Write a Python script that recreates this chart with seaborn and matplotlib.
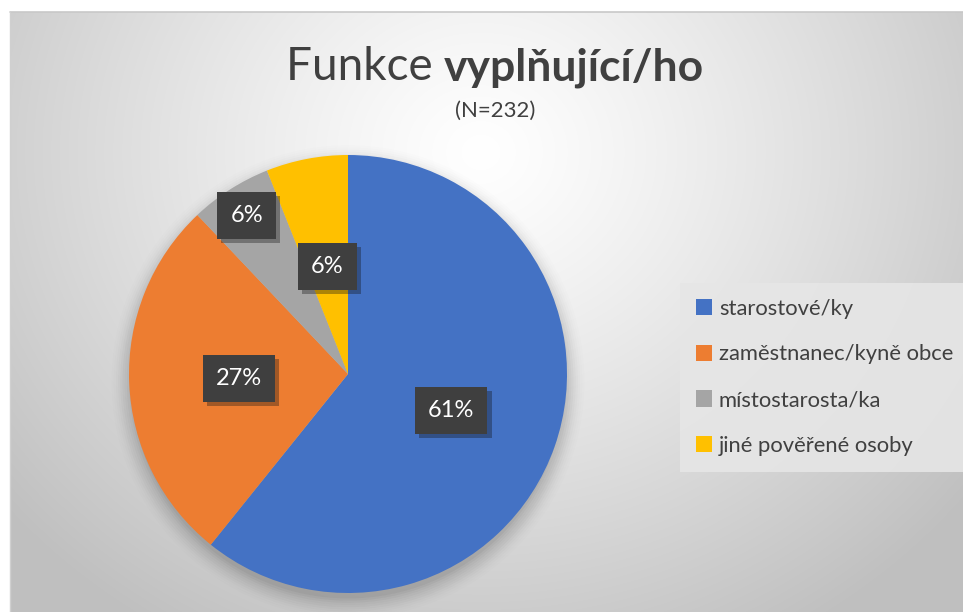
import numpy as np
import matplotlib
matplotlib.use("Agg")
import matplotlib.pyplot as plt
import matplotlib.patheffects as pe
from matplotlib.patches import Circle
import seaborn as sns

# ---- data ----
categories = ["starostové/ky", "zaměstnanec/kyně obce", "místostarosta/ka", "jiné pověřené osoby"]
counts = [141, 63, 14, 14]
pct_labels = ["61%", "27%", "6%", "6%"]
colors = ["#4472C4", "#ED7D31", "#A5A5A5", "#FFC000"]
label_dist = [0.5, 0.5, 0.86, 0.5]
title_light = "Funkce "
title_bold = "vyplňující/ho"
subtitle = "(N=232)"

sns.set_theme(style="white")
plt.rcParams["font.family"] = ["Lato", "DejaVu Sans"]

W, H = 963, 612
fig = plt.figure(figsize=(W / 100, H / 100), dpi=100)
fig.patch.set_facecolor("white")

# ---- background gradient panel ----
bx0, by0 = 10, 12
bg = fig.add_axes([bx0 / W, 0, (W - bx0) / W, (H - by0) / H])
yy, xx = np.mgrid[0:H - by0, 0:W - bx0]
cx, cy = 470, 140
r = np.sqrt(((xx - cx) / 620.0) ** 2 + ((yy - cy) / 560.0) ** 2)
val = 1.0 - 0.25 * np.clip(r, 0, 1.0) ** 1.2
img = np.dstack([val, val, val])
bg.imshow(img, aspect="auto", extent=[0, 1, 0, 1], origin="upper")
bg.set_axis_off()
fig.add_artist(plt.Line2D([bx0 / W, 1], [(H - by0) / H, (H - by0) / H], color="#c8c8c8", lw=1.2))
fig.add_artist(plt.Line2D([bx0 / W, bx0 / W], [0, (H - by0) / H], color="#d0d0d0", lw=1.0))

# ---- pie ----
pcx, pcy, pr = 348, 374, 219
ax = fig.add_axes([(pcx - pr) / W, (H - pcy - pr) / H, 2 * pr / W, 2 * pr / H])
ax.set_facecolor("none")
# soft shadow
for i, a in enumerate(np.linspace(0.035, 0.006, 10)):
    c = Circle((0.0, -0.035), 0.99 + 0.01 * i, color="black", alpha=a, lw=0, zorder=0)
    c.set_clip_on(False)
    ax.add_patch(c)
wedges, _ = ax.pie(counts, colors=colors, startangle=90, counterclock=False,
                   radius=1.0, wedgeprops=dict(linewidth=0))
for w in wedges:
    w.set_zorder(2)
for w, lab, d in zip(wedges, pct_labels, label_dist):
    ang = np.deg2rad((w.theta1 + w.theta2) / 2)
    t = ax.text(d * np.cos(ang), d * np.sin(ang), lab, ha="center", va="center",
                color="white", fontsize=17, zorder=5,
                bbox=dict(boxstyle="square,pad=0.55", fc="#3f3f3f", ec="none"))
    t.get_bbox_patch().set_path_effects([pe.SimplePatchShadow(offset=(3, -3), alpha=0.35),
                                         pe.Normal()])
ax.set_xlim(-1, 1)
ax.set_ylim(-1, 1)
ax.set_axis_off()

# ---- legend ----
leg = fig.legend(wedges, categories, loc="upper left",
                 bbox_to_anchor=(680 / W, 1 - 283 / H), frameon=True,
                 fontsize=15.8, handlelength=0.75, handleheight=0.75, handletextpad=0.3,
                 labelspacing=1.17, borderpad=0.72, fancybox=False, borderaxespad=0)
leg.get_frame().set_facecolor("#e6e6e6")
leg.get_frame().set_edgecolor("none")
leg.get_frame().set_alpha(0.9)
for txt in leg.get_texts():
    txt.set_color("#404040")

# ---- title ----
t1 = fig.text(0, 1 - 80 / H, title_light, fontsize=33, fontweight="normal", color="#404040",
              ha="left", va="baseline")
t2 = fig.text(0, 1 - 80 / H, title_bold, fontsize=32, fontweight="bold", color="#404040",
              ha="left", va="baseline")
fig.canvas.draw()
rend = fig.canvas.get_renderer()
w1 = t1.get_window_extent(rend).width
w2 = t2.get_window_extent(rend).width
x0 = 495 - (w1 + w2) / 2
t1.set_x(x0 / W)
t2.set_x((x0 + w1) / W)
fig.text(495 / W, 1 - 117 / H, subtitle, fontsize=16, fontweight="normal", color="#404040",
         ha="center", va="baseline")

fig.savefig("out.png", dpi=100)
